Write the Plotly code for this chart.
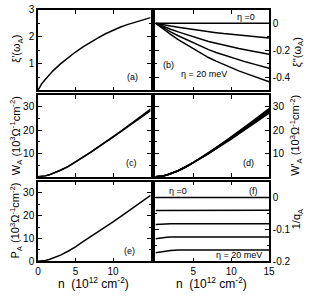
import plotly.graph_objects as go

n = [0, 0.5, 1, 1.5, 2, 3, 4, 5, 6, 7, 8, 9, 10, 11, 12, 13, 14, 15]

# (a) xi'(omega_A)
xi_re = [0, 0.25, 0.42, 0.58, 0.73, 0.99, 1.22, 1.43, 1.62, 1.80, 1.96, 2.11, 2.25, 2.36, 2.46, 2.55, 2.63, 2.71]

# (b) xi''(omega_A) for eta = 0, 5, 10, 15, 20 meV
xi_im_0 = [0] * 18
xi_im_5 = [0, -0.006, -0.011, -0.016, -0.021, -0.030, -0.039, -0.047, -0.056, -0.064, -0.070, -0.077, -0.083, -0.089, -0.094, -0.099, -0.104, -0.109]
xi_im_10 = [0, -0.012, -0.023, -0.033, -0.044, -0.064, -0.083, -0.100, -0.119, -0.135, -0.149, -0.163, -0.175, -0.188, -0.199, -0.209, -0.220, -0.230]
xi_im_15 = [0, -0.017, -0.033, -0.049, -0.064, -0.093, -0.120, -0.145, -0.173, -0.196, -0.217, -0.236, -0.255, -0.273, -0.289, -0.304, -0.320, -0.335]
xi_im_20 = [0, -0.022, -0.043, -0.063, -0.083, -0.121, -0.156, -0.188, -0.225, -0.255, -0.282, -0.307, -0.331, -0.354, -0.375, -0.395, -0.415, -0.435]

# (c) W_A
w_a_0 = [0, 0.1, 0.4, 0.85, 1.4, 2.8, 4.4, 6.3, 8.4, 10.5, 12.6, 14.8, 17.0, 19.3, 21.6, 23.9, 26.2, 28.4]
w_a_20 = [0, 0.1, 0.4, 0.85, 1.4, 2.8, 4.4, 6.3, 8.4, 10.5, 12.7, 14.9, 17.2, 19.5, 21.9, 24.3, 26.7, 29.0]

# (d) W'_A
wp_a_0 = [0, 0.1, 0.35, 0.8, 1.3, 2.6, 4.2, 6.0, 8.0, 10.0, 12.0, 14.1, 16.2, 18.4, 20.6, 22.9, 25.1, 27.3]
wp_a_5 = [0, 0.1, 0.35, 0.8, 1.3, 2.6, 4.2, 6.0, 8.0, 10.0, 12.1, 14.2, 16.4, 18.6, 20.9, 23.2, 25.5, 27.8]
wp_a_10 = [0, 0.1, 0.35, 0.8, 1.3, 2.6, 4.2, 6.1, 8.1, 10.1, 12.2, 14.4, 16.6, 18.9, 21.2, 23.5, 25.9, 28.3]
wp_a_15 = [0, 0.1, 0.35, 0.8, 1.3, 2.6, 4.3, 6.1, 8.1, 10.2, 12.4, 14.6, 16.8, 19.1, 21.5, 23.9, 26.3, 28.8]
wp_a_20 = [0, 0.1, 0.35, 0.8, 1.3, 2.7, 4.3, 6.2, 8.2, 10.3, 12.5, 14.8, 17.1, 19.4, 21.8, 24.3, 26.8, 29.3]

# (e) P_A
p_a = [0, 0.1, 0.35, 0.75, 1.3, 2.7, 4.4, 6.3, 8.6, 10.7, 12.9, 15.1, 17.3, 19.6, 21.9, 24.2, 26.6, 29.0]

# (f) 1/q_A
q_0 = [0] * 18
q_5 = [-0.041, -0.041, -0.040, -0.040, -0.040, -0.040, -0.040, -0.040, -0.040, -0.040, -0.040, -0.040, -0.040, -0.040, -0.040, -0.040, -0.040, -0.040]
q_10 = [-0.085, -0.084, -0.083, -0.083, -0.082, -0.082, -0.082, -0.082, -0.082, -0.082, -0.082, -0.082, -0.082, -0.082, -0.082, -0.082, -0.082, -0.082]
q_15 = [-0.129, -0.127, -0.126, -0.125, -0.124, -0.124, -0.124, -0.124, -0.124, -0.124, -0.124, -0.124, -0.124, -0.124, -0.124, -0.124, -0.124, -0.124]
q_20 = [-0.173, -0.171, -0.169, -0.167, -0.166, -0.165, -0.165, -0.165, -0.165, -0.165, -0.165, -0.165, -0.165, -0.165, -0.165, -0.165, -0.165, -0.165]

W, H = 312, 297
FONT = "Liberation Sans, Arial, sans-serif"

def px_x(a, b):
    return [a / W, b / W]

def px_y(top, bot):
    return [1 - bot / H, 1 - top / H]

xdom_l = px_x(36, 152)
xdom_r = px_x(157, 274)
ydoms = [px_y(4, 88), px_y(93, 178), px_y(183, 266)]

fig = go.Figure()
line = dict(color="black", width=1.5)

def add(ax, ys):
    for y in ys:
        fig.add_trace(go.Scatter(x=n, y=y, mode="lines", line=line,
                                 xaxis="x" + ax, yaxis="y" + ax, showlegend=False,
                                 hoverinfo="skip"))

add("", [xi_re])
add("2", [xi_im_0, xi_im_5, xi_im_10, xi_im_15, xi_im_20])
add("3", [w_a_0, w_a_20])
add("4", [wp_a_0, wp_a_5, wp_a_10, wp_a_15, wp_a_20])
add("5", [p_a])
add("6", [q_0, q_5, q_10, q_15, q_20])

common = dict(showline=True, linecolor="black", linewidth=1.5, mirror="ticks",
              ticks="inside", ticklen=4, tickwidth=1, tickcolor="black",
              showgrid=False, zeroline=False, ticklabeloverflow="allow",
              tickfont=dict(size=10, family=FONT, color="black"))

def xaxis(dom, anchor, vals, labels):
    d = dict(common)
    d.update(domain=dom, anchor=anchor, range=[0, 15], tickmode="array",
             tickvals=vals, ticktext=labels, showticklabels=bool(labels))
    return d

def yaxis(dom, anchor, rng, vals, labels, minor, side="left"):
    d = dict(common)
    d.update(domain=dom, anchor=anchor, range=rng, tickmode="array",
             tickvals=vals, ticktext=labels, side=side,
             minor=dict(tickvals=minor, ticks="inside", ticklen=2, tickwidth=1, tickcolor="black"))
    return d

layout = dict(
    width=W, height=H, margin=dict(l=0, r=0, t=0, b=0),
    plot_bgcolor="white", paper_bgcolor="white",
    font=dict(family=FONT, size=10, color="black"),
    xaxis=xaxis(xdom_l, "y", [5, 10], []),
    yaxis=yaxis(ydoms[0], "x", [0, 3], [1, 2, 3], ["1", "2", "3"], [0.5, 1.5, 2.5]),
    xaxis2=xaxis(xdom_r, "y2", [5, 10], []),
    yaxis2=yaxis(ydoms[0], "x2", [-0.5, 0.1], [0, -0.2, -0.4], ["0", "-0.2", "-0.4"], [-0.1, -0.3], "right"),
    xaxis3=xaxis(xdom_l, "y3", [5, 10], []),
    yaxis3=yaxis(ydoms[1], "x3", [0, 35], [10, 20, 30], ["10", "20", "30"], [5, 15, 25]),
    xaxis4=xaxis(xdom_r, "y4", [5, 10], []),
    yaxis4=yaxis(ydoms[1], "x4", [0, 35], [10, 20, 30], ["10", "20", "30"], [5, 15, 25], "right"),
    xaxis5=xaxis(xdom_l, "y5", [0, 5, 10], ["0", "5", "10"]),
    yaxis5=yaxis(ydoms[2], "x5", [0, 35], [0, 10, 20, 30], ["0", "10", "20", "30"], [5, 15, 25]),
    xaxis6=xaxis(xdom_r, "y6", [5, 10, 15], ["5", "10", "15"]),
    yaxis6=yaxis(ydoms[2], "x6", [-0.2, 0.05], [0, -0.1, -0.2], ["0", "-0.1", "-0.2"], [-0.05, -0.15], "right"),
)
fig.update_layout(**layout)

def ann(text, x, y, size=9, angle=0):
    fig.add_annotation(text=text, x=x / W, y=1 - y / H, xref="paper", yref="paper",
                       xanchor="center", yanchor="middle",
                       showarrow=False, textangle=angle,
                       font=dict(size=size, family=FONT, color="black"))

ann("(a)", 133, 74)
ann("(b)", 170, 61)
ann("η =0", 250, 11)
ann("η = 20 meV", 207, 71)
ann("(c)", 132, 164)
ann("(d)", 253, 164)
ann("(e)", 130, 255)
ann("(f)", 258, 193)
ann("η =0", 180, 193)
ann("η = 20 meV", 243, 260)

ylab = "(10<sup>3</sup>Ω<sup>-1</sup>cm<sup>-2</sup>)"
ann("ξ'(ω<sub>A</sub>)", 15, 45, 11, -90)
ann("ξ''(ω<sub>A</sub>)", 304, 48, 11, -90)
ann("W<sub>A</sub> " + ylab, 13, 135, 11, -90)
ann("W'<sub>A</sub> " + ylab, 301, 135, 11, -90)
ann("P<sub>A</sub> " + ylab, 13, 224, 11, -90)
ann("1/q<sub>A</sub>", 303, 222, 11, -90)
ann("n  (10<sup>12</sup> cm<sup>-2</sup>)", 93, 289, 12)
ann("n  (10<sup>12</sup> cm<sup>-2</sup>)", 215, 289, 12)

fig.write_html("out.html", config={"displayModeBar": False},
               post_script="document.body.style.margin='0';document.body.style.overflow='hidden';")
